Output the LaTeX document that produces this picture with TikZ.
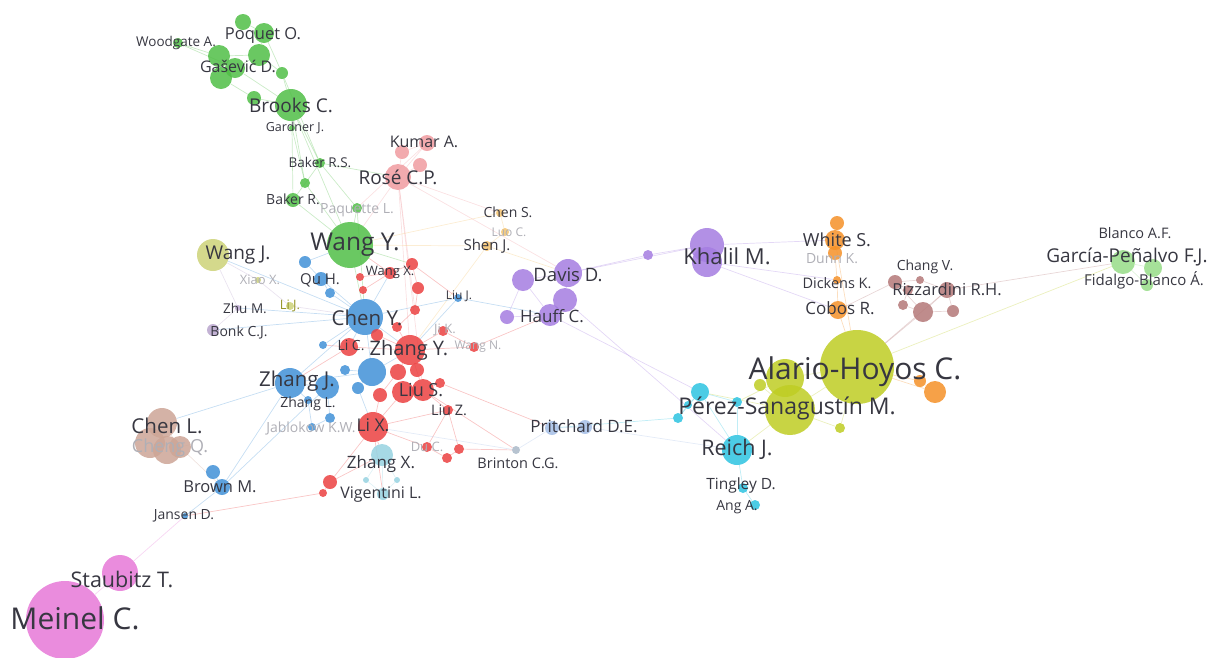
\documentclass[tikz,border=0pt]{standalone}
\usepackage{fontspec}
\setmainfont{Open Sans}
\usepackage{tikz}
\usetikzlibrary{positioning, backgrounds}

\definecolor{lab}{RGB}{55,55,65}
\definecolor{fade}{RGB}{175,175,182}
\definecolor{olivetext}{RGB}{150,150,40}
\definecolor{vgreen}{RGB}{80,190,70}
\definecolor{vrose}{RGB}{240,155,160}
\definecolor{vlorange}{RGB}{245,195,110}
\definecolor{vlyel}{RGB}{205,210,120}
\definecolor{vlav}{RGB}{185,165,205}
\definecolor{vblue}{RGB}{65,145,215}
\definecolor{vred}{RGB}{235,65,65}
\definecolor{vlcyan}{RGB}{150,210,225}
\definecolor{vlblue}{RGB}{165,190,230}
\definecolor{vgrayb}{RGB}{170,185,200}
\definecolor{vtan}{RGB}{205,165,150}
\definecolor{vmag}{RGB}{230,120,215}
\definecolor{vpurp}{RGB}{165,125,225}
\definecolor{vorange}{RGB}{245,145,40}
\definecolor{vbrown}{RGB}{180,120,120}
\definecolor{vyel}{RGB}{190,205,35}
\definecolor{vcyan}{RGB}{45,195,225}
\definecolor{vlgreen}{RGB}{150,220,135}

\begin{document}
\begin{tikzpicture}[x=1pt, y=-1pt,
    bub/.style={circle, inner sep=0pt, draw=none, fill opacity=0.85},
    lbl/.style={inner sep=0pt},
    link/.style={line width=0.7pt, draw opacity=0.3}]
\useasboundingbox (0,0) rectangle (1207,657);
\foreach \n/\x/\y/\sz/\col in {
    g1/243/22/16/vgreen, poquet/264/33/20/vgreen, g3/259/55/22/vgreen, gasevic/219/56/22/vgreen,
    g5/221/78/22/vgreen, g6/235/68/20/vgreen, g7/282/73/12/vgreen, g8/254/98/14/vgreen,
    brooks/291/105/32/vgreen, woodgate/178/43/10/vgreen, gardner/292/128/6/vgreen,
    bakerrs/320/163/10/vgreen, g9/305/183/10/vgreen, bakerr/293/200/14/vgreen,
    paquette/357/208/10/vgreen, wangy/350/245/46/vgreen,
    kumar/427/143/16/vrose, r2/402/152/14/vrose, rose/398/177/26/vrose, r4/420/165/14/vrose,
    chens/500/213/8/vlorange, luoc/505/232/8/vlorange, shenj/487/246/10/vlorange,
    wangj/213/255/32/vlyel, xiaox/258/280/6/vlyel, lij/290/306/8/vlyel,
    zhum/238/308/6/vlav, bonk/213/330/12/vlav,
    b1/305/262/12/vblue, quh/321/279/14/vblue, b3/330/293/10/vblue, cheny/365/317/36/vblue,
    b5/323/345/8/vblue, b6/372/372/28/vblue, zhangj/290/383/30/vblue, b8/327/387/24/vblue,
    b9/345/370/10/vblue, b10/358/388/12/vblue, b11/330/418/10/vblue, jablokow/312/427/8/vblue,
    zhangl/308/400/8/vblue, liuj/458/298/8/vblue, b12/213/472/14/vblue, brownm/222/487/16/vblue,
    jansen/185/516/6/vblue,
    wangx/390/273/12/vred, x1/360/277/8/vred, x2/363/290/8/vred, x3/412/264/12/vred,
    x4/418/288/12/vred, x5/415/310/10/vred, x6/397/327/10/vred, lic/349/347/18/vred,
    x7/377/335/12/vred, zhangy/410/350/30/vred, x8/398/372/16/vred, x9/417/370/14/vred,
    x10/380/395/14/vred, x11/403/392/22/vred, lius/423/390/22/vred, x12/440/383/10/vred,
    lix/373/427/30/vred, jik/443/331/10/vred, wangn/474/347/10/vred, liuz/448/410/10/vred,
    duc/427/447/10/vred, x13/447/458/10/vred, x14/459/449/10/vred, x15/330/482/14/vred,
    x16/323/493/8/vred,
    zhangx/382/455/22/vlcyan, y1/366/480/6/vlcyan, y2/397/480/6/vlcyan, vigentini/383/494/12/vlcyan,
    pritchard/552/428/14/vlblue, p2/585/427/14/vlblue, brinton/516/450/8/vgrayb,
    chenl/162/423/30/vtan, l2/150/443/30/vtan, chengq/167/450/28/vtan, l4/180/447/22/vtan,
    staubitz/120/573/36/vmag, meinel/65/620/78/vmag,
    pp1/523/280/22/vpurp, davis/568/273/28/vpurp, pp3/565/300/24/vpurp, hauff/550/315/22/vpurp,
    pp5/507/317/14/vpurp, pp6/648/255/10/vpurp, khalil/707/245/34/vpurp, pp8/707/262/30/vpurp,
    o1/837/223/14/vorange, whites/835/240/20/vorange, dunnk/835/253/14/vorange,
    dickens/837/280/8/vorange, cobos/838/310/18/vorange, o6/935/392/22/vorange, o7/920/381/12/vorange,
    c1/895/282/14/vbrown, chang/920/280/8/vbrown, rizz/947/290/16/vbrown, c4/903/305/10/vbrown,
    c5/923/312/20/vbrown, c6/953/311/12/vbrown, c7/908/290/10/vbrown,
    alario/857/367/74/vyel, a2/785/378/38/vyel, perez/790/410/50/vyel, a4/760/385/12/vyel,
    a5/840/428/10/vyel,
    k1/700/392/18/vcyan, k2/737/402/10/vcyan, k3/678/418/10/vcyan, k4/688/405/8/vcyan,
    reich/737/450/30/vcyan, tingley/743/488/10/vcyan, ang/755/505/10/vcyan,
    garcia/1123/262/24/vlgreen, blanco/1153/268/18/vlgreen, fidalgo/1147/285/12/vlgreen}
    \node[bub, fill=\col, minimum size=\sz] (\n) at (\x,\y) {};
\begin{pgfonlayer}{background}
\foreach \a/\b in {g1/poquet, poquet/g3, g3/gasevic, gasevic/g5, g6/g3, g6/woodgate, woodgate/gasevic,
    g3/g7, g7/brooks, g8/brooks, g5/g8, g6/brooks, brooks/gardner, gardner/bakerr, brooks/bakerrs,
    brooks/g9, gardner/g9, bakerrs/paquette, bakerr/wangy, g9/wangy, paquette/wangy, bakerrs/bakerr,
    brooks/wangy, bakerrs/rose, paquette/cheny, wangy/cheny, wangy/x3, g7/bakerrs, poquet/g7}
    \draw[link, vgreen] (\a) -- (\b);
\foreach \a/\b in {kumar/rose, r2/rose, r4/rose, r2/kumar, rose/wangy, rose/zhangy, kumar/paquette,
    rose/x5, rose/chens, rose/lius, rose/davis}
    \draw[link, vrose] (\a) -- (\b);
\foreach \a/\b in {chens/luoc, luoc/shenj, shenj/wangy, chens/wangy, shenj/davis, shenj/zhangy}
    \draw[link, vlorange] (\a) -- (\b);
\foreach \a/\b in {cheny/quh, quh/b1, quh/b3, b1/wangy, cheny/b3, cheny/b5, cheny/lic, cheny/zhangy,
    cheny/b6, cheny/zhangj, cheny/wangx, cheny/liuj, cheny/wangj, cheny/bonk, cheny/zhum, zhangj/b8,
    zhangj/zhangl, zhangj/b6, b6/b9, b6/b10, b8/b11, b11/jablokow, zhangl/jablokow, zhangj/chenl,
    zhangj/brownm, b12/brownm, brownm/jansen, b8/brownm, b10/lix, b6/zhangy, liuj/hauff, liuj/zhangy}
    \draw[link, vblue] (\a) -- (\b);
\foreach \a/\b in {wangx/x1, wangx/x2, wangx/x3, x3/x4, x4/x5, x5/x6, x6/zhangy, lic/zhangy, x7/zhangy,
    zhangy/x8, zhangy/x9, zhangy/lius, x8/x10, x10/lix, x11/lius, x11/lix, lius/x12, lius/liuz, lix/liuz,
    lix/duc, liuz/duc, liuz/x14, duc/x13, x13/x14, lix/x15, x15/x16, lix/zhangx, zhangy/jik, zhangy/wangn,
    jik/wangn, x12/pritchard, lius/brinton, x14/brinton, x3/liuj, x15/zhangx, lix/vigentini, wangn/hauff,
    wangy/wangx, lic/b5, lic/zhangj, x16/jansen}
    \draw[link, vred] (\a) -- (\b);
\foreach \a/\b in {zhangx/y1, zhangx/y2, y1/vigentini, y2/vigentini, zhangx/vigentini}
    \draw[link, vlcyan] (\a) -- (\b);
\foreach \a/\b in {pritchard/p2, pritchard/brinton, p2/reich, brinton/lix}
    \draw[link, vlblue] (\a) -- (\b);
\foreach \a/\b in {chenl/l2, chenl/chengq, chenl/l4, l2/chengq, l4/chengq, l4/brownm}
    \draw[link, vtan] (\a) -- (\b);
\foreach \a/\b in {zhum/bonk, wangj/xiaox, xiaox/lij, lij/cheny, wangj/zhum}
    \draw[link, vlav] (\a) -- (\b);
\foreach \a/\b in {staubitz/meinel, jansen/staubitz}
    \draw[link, vmag] (\a) -- (\b);
\foreach \a/\b in {pp1/davis, davis/pp3, pp3/hauff, hauff/pp5, pp1/pp5, pp1/hauff, davis/pp6, pp6/khalil,
    davis/khalil, hauff/k1, pp3/reich, khalil/whites, pp8/cobos, pp8/dickens, khalil/pp8}
    \draw[link, vpurp] (\a) -- (\b);
\foreach \a/\b in {o1/whites, whites/dunnk, dunnk/dickens, dickens/cobos, cobos/alario, whites/alario,
    o6/alario, o7/alario, o6/o7}
    \draw[link, vorange] (\a) -- (\b);
\foreach \a/\b in {c1/chang, chang/rizz, c1/c7, c7/c4, c4/c5, c5/rizz, c5/c6, rizz/c6, c1/c5, c5/alario,
    rizz/alario, c1/cobos, rizz/garcia}
    \draw[link, vbrown] (\a) -- (\b);
\foreach \a/\b in {alario/a2, alario/perez, a2/perez, a4/perez, a5/perez, alario/a5, alario/garcia,
    perez/k1, a2/k2, perez/reich}
    \draw[link, vyel] (\a) -- (\b);
\foreach \a/\b in {k1/k2, k1/k3, k1/k4, k3/k4, k1/reich, reich/tingley, tingley/ang, k2/reich, k3/pritchard}
    \draw[link, vcyan] (\a) -- (\b);
\foreach \a/\b in {garcia/blanco, garcia/fidalgo, blanco/fidalgo}
    \draw[link, vlgreen] (\a) -- (\b);
\end{pgfonlayer}
\foreach \n/\x/\y/\fs/\tc/\txt in {
    woodgate-t/176/43/13.5/lab/Woodgate A., poquet-t/263/35/16.5/lab/Poquet O.,
    gasevic-t/238/66/16/lab/Gašević D., brooks-t/291/105/19/lab/Brooks C.,
    gardner-t/295/128/12.5/lab/Gardner J., bakerrs-t/320/162/13.5/lab/Baker R.S.,
    bakerr-t/293/199/14/lab/Baker R., paquette-t/357/210/14/fade/Paquette L.,
    wangy-t/355/245/24.5/lab/Wang Y., kumar-t/424/142/16/lab/Kumar A.,
    rose-t/398/177/19/lab/Rosé C.P., chens-t/508/212/14/lab/Chen S.,
    luoc-t/509/232/12/fade/Luo C., shenj-t/487/246/15/lab/Shen J.,
    wangj-t/238/255/19/lab/Wang J., xiaox-t/260/280/13/fade/Xiao X.,
    lij-t/290/306/13/olivetext/Li J., zhum-t/245/308/13.5/lab/Zhu M.,
    bonk-t/239/332/14/lab/Bonk C.J., quh-t/320/280/15/lab/Qu H.,
    cheny-t/367/318/20.5/lab/Chen Y., lic-t/351/345/14/lab/Li C.,
    zhangj-t/297/381/20.5/lab/Zhang J., zhangl-t/308/404/14/lab/Zhang L.,
    jablokow-t/311/428/14/fade/Jablokow K.W., liuj-t/459/296/12/lab/Liu J.,
    wangx-t/390/272/13/lab/Wang X., zhangy-t/409/350/20/lab/Zhang Y.,
    lius-t/421/390/18/lab/Liu S., lix-t/373/425/17.5/lab/Li X.,
    liuz-t/449/410/14.5/lab/Liu Z., jik-t/445/330/13/fade/Ji K.,
    wangn-t/478/347/12/fade/Wang N., duc-t/427/447/13/fade/Du C.,
    zhangx-t/381/464/17/lab/Zhang X., vigentini-t/381/495/16/lab/Vigentini L.,
    pritchard-t/584/426/17/lab/Pritchard D.E., brinton-t/518/463/14.5/lab/Brinton C.G.,
    chenl-t/167/426/20.5/lab/Chen L., chengq-t/170/448/18/fade/Cheng Q.,
    brownm-t/220/487/16.5/lab/Brown M., jansen-t/184/516/14/lab/Jansen D.,
    staubitz-t/122/579/21.5/lab/Staubitz T., meinel-t/75/618/30/lab/Meinel C.,
    davis-t/568/275/18.5/lab/Davis D., hauff-t/552/316/17/lab/Hauff C.,
    khalil-t/727/256/22/lab/Khalil M., whites-t/837/240/18/lab/White S.,
    dunnk-t/832/259/14/fade/Dunn K., dickens-t/837/283/14.5/lab/Dickens K.,
    cobos-t/840/308/17/lab/Cobos R., chang-t/925/267/14/lab/Chang V.,
    rizz-t/947/289/16.5/lab/Rizzardini R.H., alario-t/855/372/30/lab/Alario-Hoyos C.,
    perez-t/787/408/23/lab/Pérez-Sanagustín M., reich-t/737/449/21.5/lab/Reich J.,
    tingley-t/741/485/15.5/lab/Tingley D., ang-t/737/507/14/lab/Ang A.,
    blanco-t/1135/233/14.5/lab/Blanco A.F., garcia-t/1127/257/19/lab/García-Peñalvo F.J.,
    fidalgo-t/1144/280/15/lab/Fidalgo-Blanco Á.}
    \node[lbl, text=\tc, font=\fontsize{\fs}{\fs}\selectfont] (\n) at (\x,\y) {\txt};
\end{tikzpicture}
\end{document}
